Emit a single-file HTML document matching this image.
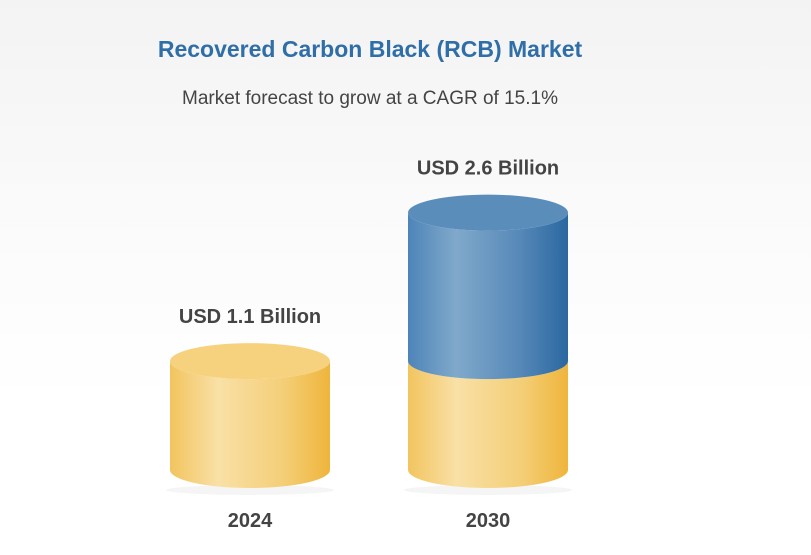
<!DOCTYPE html>
<html style="width:811px;height:555px;overflow:hidden;background:#fff"><head><meta charset="utf-8"><style>
body{margin:0;width:811px;height:555px;overflow:hidden;background:linear-gradient(#f3f3f3 0,#fafafa 200px,#fff 400px);font-family:"Liberation Sans",sans-serif}
svg{display:block}
</style></head><body>
<svg width="811" height="555">
<defs>
<linearGradient id="gy" x1="0" x2="1"><stop offset="0" stop-color="#f2c45e"/><stop offset="0.3" stop-color="#f9e0a6"/><stop offset="0.7" stop-color="#f4cf79"/><stop offset="1" stop-color="#efb53c"/></linearGradient>
<linearGradient id="gb" x1="0" x2="1"><stop offset="0" stop-color="#4d84b8"/><stop offset="0.3" stop-color="#80a9cb"/><stop offset="0.7" stop-color="#5688b8"/><stop offset="1" stop-color="#2a68a0"/></linearGradient>
</defs>
<text x="370" y="57" text-anchor="middle" font-size="23" font-weight="bold" fill="#2f6ea7">Recovered Carbon Black (RCB) Market</text>
<text x="370" y="104" text-anchor="middle" font-size="19" fill="#444">Market forecast to grow at a CAGR of 15.1%</text>
<g id="bars"></g>
</svg>
<script>
const categories=["2024","2030"];
const values=[1.1,2.6];
const baseValue=[1.1,1.1];
const labels=["USD 1.1 Billion","USD 2.6 Billion"];
const svg=document.getElementById('bars');
const NS="http://www.w3.org/2000/svg";
const base=470, pxPerUnit=99, ry=18;
const xs=[250,488], hw=80;
function y(v){return base-v*pxPerUnit;}
function mk(tag,a){const e=document.createElementNS(NS,tag);for(const k in a)e.setAttribute(k,a[k]);svg.appendChild(e);return e;}
function cyl(cx,y0,y1,fill){
 return mk('path',{d:`M${cx-hw},${y1} L${cx-hw},${y0} A${hw},${ry} 0 0 0 ${cx+hw},${y0} L${cx+hw},${y1} A${hw},${ry} 0 0 1 ${cx-hw},${y1} Z`,fill:fill});
}
categories.forEach((c,i)=>{
 const cx=xs[i];
 mk('ellipse',{cx:cx,cy:base+ry+2,rx:hw+4,ry:5,fill:'#000',opacity:0.04});
 const seg=cyl(cx,base,y(baseValue[i]),'url(#gy)');
 
 
 let topFill='#f6d27e';
 if(values[i]>baseValue[i]){
  const b=cyl(cx,y(baseValue[i]),y(values[i]),'url(#gb)');
  
  
  topFill='#5b8dbb';
 }
 const t=mk('ellipse',{cx:cx,cy:y(values[i]),rx:hw,ry:ry,fill:topFill});
 
 
 const l=mk('text',{x:cx,y:y(values[i])-38,'text-anchor':'middle','font-size':'20','font-weight':'bold',fill:'#444'});
 l.textContent=labels[i];
 
 
 const yl=mk('text',{x:cx,y:527,'text-anchor':'middle','font-size':'20','font-weight':'bold',fill:'#444'});
 yl.textContent=c;
 
 
});
</script>
</body></html>
